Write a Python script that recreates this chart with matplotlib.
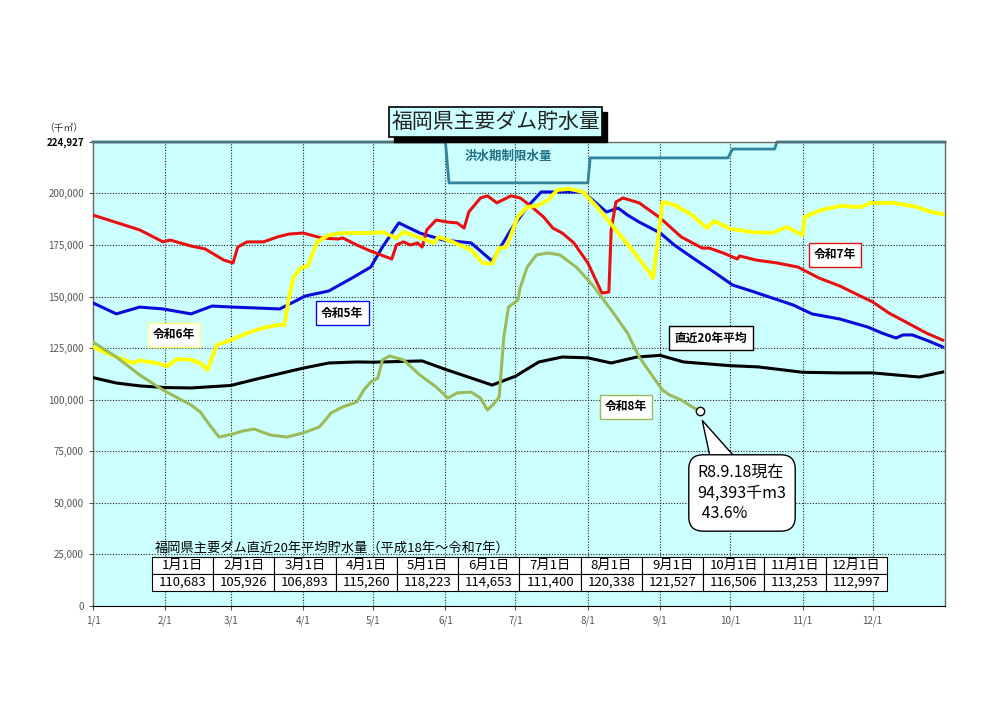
import matplotlib
matplotlib.use("Agg")
import matplotlib.pyplot as plt
from matplotlib.patches import Rectangle, Polygon

plt.rcParams['font.family'] = ['Noto Sans CJK JP', 'DejaVu Sans']

# ==========================================
# Data (x = day of year, Jan 1 = 0 ; y = storage in 1000 m3)
# ==========================================
CAPACITY = 224.927

MONTH_DAYS = [0, 31, 59, 90, 120, 151, 181, 212, 243, 273, 304, 334]
MONTH_TICKS = ['1/1', '2/1', '3/1', '4/1', '5/1', '6/1', '7/1', '8/1', '9/1', '10/1', '11/1', '12/1']

# 令和5年 (blue)
R5_DAYS = [0, 10, 20, 30, 42, 51, 60, 80, 86, 91, 101, 111, 119, 124, 131, 140, 150, 162, 171,
           179, 186, 192, 199, 210, 220, 225, 229, 234, 243, 249, 257, 266, 274, 282, 291, 300,
           308, 320, 332, 338, 344, 347, 351, 357, 364]
R5_VALUES = [146.9, 141.6, 144.9, 144.0, 141.6, 145.4, 144.9, 144.0, 147.4, 150.3, 152.7, 159.0,
             164.3, 174.0, 185.7, 180.8, 177.4, 176.0, 167.2, 182.3, 193.4, 200.7, 200.7, 200.7,
             191.0, 192.9, 189.5, 186.1, 180.8, 175.0, 168.7, 161.9, 155.6, 152.7, 149.3, 145.9,
             141.6, 139.1, 135.2, 132.3, 129.9, 131.4, 131.4, 128.9, 125.6]

# 令和6年 (yellow)
R6_DAYS = [0, 10, 17, 20, 27, 32, 36, 42, 46, 49, 53, 59, 66, 73, 79, 82, 84, 86, 89, 92, 96,
           101, 107, 119, 124, 130, 133, 139, 146, 148, 154, 162, 167, 171, 174, 177, 182, 186,
           190, 195, 199, 204, 210, 216, 223, 230, 236, 240, 242, 244, 249, 256, 263, 266, 273,
           282, 291, 297, 304, 305, 312, 320, 329, 333, 343, 353, 359, 364]
R6_VALUES = [125.6, 120.7, 117.8, 119.0, 117.8, 116.3, 119.7, 119.3, 117.8, 114.4, 126.5, 128.9,
             132.3, 134.8, 136.2, 136.2, 149.8, 159.5, 163.9, 164.8, 176.5, 179.8, 180.8, 180.8,
             181.3, 178.4, 181.3, 178.9, 176.0, 178.9, 176.5, 172.6, 166.3, 165.8, 173.5, 174.0,
             188.6, 193.4, 193.9, 196.8, 201.7, 202.2, 200.7, 193.4, 183.7, 174.0, 165.3, 159.0,
             177.4, 195.8, 194.4, 190.0, 183.2, 186.6, 182.8, 181.3, 180.8, 183.7, 179.8, 188.6,
             192.0, 193.9, 193.4, 195.4, 195.4, 193.4, 191.0, 190.0]

# 令和7年 (red)
R7_DAYS = [0, 20, 30, 33, 42, 48, 56, 60, 62, 66, 73, 79, 84, 90, 98, 105, 107, 113, 119, 128,
           130, 133, 136, 139, 141, 143, 147, 152, 156, 159, 161, 166, 169, 173, 179, 183, 187,
           193, 197, 201, 206, 212, 216, 218, 221, 222, 224, 227, 234, 243, 252, 261, 264, 270,
           276, 277, 284, 293, 302, 311, 320, 327, 334, 341, 349, 357, 364]
R7_VALUES = [189.5, 182.3, 176.5, 177.4, 174.5, 173.1, 167.7, 166.3, 174.0, 176.5, 176.5, 178.9,
             180.3, 180.8, 178.4, 177.9, 178.4, 175.0, 172.0, 168.2, 175.0, 176.5, 175.0, 176.0,
             174.0, 182.3, 187.1, 186.1, 185.7, 183.2, 191.0, 197.8, 198.8, 195.4, 198.8, 197.8,
             194.4, 188.6, 183.2, 180.8, 176.0, 166.3, 156.6, 151.7, 152.2, 182.3, 195.8, 197.8,
             195.4, 188.1, 178.9, 173.5, 173.5, 171.1, 168.2, 169.7, 167.7, 166.3, 164.3, 159.0,
             155.1, 151.2, 147.4, 142.0, 137.2, 132.3, 128.9]

# 令和8年 (green, up to 9/18)
R8_DAYS = [0, 10, 20, 30, 42, 46, 50, 54, 60, 64, 69, 76, 83, 90, 97, 102, 107, 113, 116, 119,
           122, 124, 127, 133, 140, 147, 152, 156, 162, 166, 169, 172, 174, 176, 178, 182, 183,
           186, 190, 195, 200, 207, 214, 222, 229, 234, 240, 244, 247, 252, 256, 260]
R8_VALUES = [128.0, 120.7, 112.0, 104.7, 97.4, 94.0, 87.7, 81.9, 83.4, 84.8, 85.8, 82.9, 81.9,
             83.9, 86.8, 93.6, 96.5, 98.9, 104.7, 108.6, 110.5, 119.3, 121.2, 119.3, 112.0,
             106.2, 100.8, 103.3, 103.7, 100.8, 95.0, 98.4, 101.3, 130.4, 144.9, 148.3, 154.2,
             164.3, 170.2, 171.1, 170.2, 164.3, 155.6, 143.5, 132.3, 120.7, 111.0, 104.7, 102.3,
             99.9, 97.0, 94.393]

# 直近20年平均 (black)
AVG_DAYS = [0, 10, 20, 31, 42, 59, 70, 90, 101, 113, 120, 141, 151, 171, 181, 191, 201, 212,
            222, 233, 243, 253, 273, 285, 304, 320, 334, 354, 364]
AVG_VALUES = [110.7, 108.1, 106.7, 105.9, 105.7, 106.9, 110.0, 115.3, 117.8, 118.3, 118.2, 118.8,
              114.7, 107.1, 111.4, 118.3, 120.7, 120.3, 117.8, 120.7, 121.5, 118.3, 116.5, 115.9,
              113.3, 113.0, 113.0, 111.0, 113.4]

# 洪水期制限水量
FLOOD_DAYS = [0, 151, 152.5, 212, 213, 272, 274, 292, 293, 365]
FLOOD_VALUES = [CAPACITY, CAPACITY, 205.1, 205.1, 217.2, 217.2, 221.5, 221.5, CAPACITY, CAPACITY]

# table
TABLE_HEADERS = ['1月1日', '2月1日', '3月1日', '4月1日', '5月1日', '6月1日',
                 '7月1日', '8月1日', '9月1日', '10月1日', '11月1日', '12月1日']
TABLE_VALUES = [110683, 105926, 106893, 115260, 118223, 114653,
                111400, 120338, 121527, 116506, 113253, 112997]

LATEST_DATE = 'R8.9.18現在'
LATEST_VALUE = 94393
LATEST_RATE = 43.6


def main():
    fig = plt.figure(figsize=(10, 7.06), dpi=100)
    ax = fig.add_axes([0.093, 0.1416, 0.852, 0.6573])
    ax.set_facecolor('#CCFFFF')

    # grid
    yticks = [0, 25, 50, 75, 100, 125, 150, 175, 200]
    for y in yticks[1:]:
        ax.axhline(y, color='#222222', lw=0.8, ls=(0, (1, 1.5)), zorder=1)
    for d in MONTH_DAYS[1:]:
        ax.axvline(d, color='#222222', lw=0.8, ls=(0, (1, 1.5)), zorder=1)

    # flood control limit
    ax.plot(FLOOD_DAYS, FLOOD_VALUES, color='#31849B', lw=2, zorder=2, clip_on=False)
    ax.text(178, 217.8, '洪水期制限水量', color='#1F6F86', fontsize=9, fontweight='bold',
            ha='center', va='center', zorder=3)

    # series
    ax.plot(AVG_DAYS, AVG_VALUES, color='black', lw=2.2, zorder=4)
    ax.plot(R5_DAYS, R5_VALUES, color='#0A0ADC', lw=2.2, zorder=5)
    ax.plot(R7_DAYS, R7_VALUES, color='#E81010', lw=2.2, zorder=6)
    ax.plot(R6_DAYS, R6_VALUES, color='#FFFF00', lw=2.8, zorder=7)
    ax.plot(R8_DAYS, R8_VALUES, color='#9BBB59', lw=2.2, zorder=8)
    ax.plot(R8_DAYS[-1], R8_VALUES[-1], 'o', ms=6, mfc='white', mec='black', mew=1, zorder=9)

    # series labels
    def label(x, y, s, ec):
        ax.text(x, y, s, fontsize=8.5, fontweight='bold', ha='center', va='center', zorder=10,
                bbox=dict(boxstyle='square,pad=0.45', fc='white', ec=ec, lw=1))

    label(34.7, 131.4, '令和6年', '#FFFF80')
    label(106.7, 142.0, '令和5年', '#0A0ADC')
    label(317.9, 170.2, '令和7年', '#E81010')
    label(264.8, 129.9, '直近20年平均', 'black')
    label(228.3, 96.5, '令和8年', '#9BBB59')

    # callout for latest value: pointer wedge then the rounded box
    ax.add_patch(Polygon([(261.0, 90.0), (264.5, 71.5), (275.5, 71.5)], closed=True,
                         fc='white', ec='black', lw=1, zorder=11))
    ax.text(259.0, 54.8, f'{LATEST_DATE}\n{LATEST_VALUE:,}千m3\n {LATEST_RATE}%',
            fontsize=11.5, ha='left', va='center', linespacing=1.3, zorder=12,
            bbox=dict(boxstyle='round,pad=0.55,rounding_size=0.9', fc='white', ec='black', lw=1))

    # table of 20-year average
    ax.text(0.0728, 0.125, '福岡県主要ダム直近20年平均貯水量（平成18年～令和7年）',
            transform=ax.transAxes, fontsize=9.5, ha='left', va='center', zorder=12)
    cell_text = [TABLE_HEADERS, [f'{v:,}' for v in TABLE_VALUES]]
    tbl = ax.table(cellText=cell_text, cellLoc='center',
                   bbox=[0.0692, 0.0323, 0.8627, 0.0733], zorder=12)
    tbl.auto_set_font_size(False)
    tbl.set_fontsize(9.5)
    for cell in tbl.get_celld().values():
        cell.set_facecolor('white')
        cell.set_edgecolor('black')
        cell.set_linewidth(0.8)

    # axes
    ax.set_xlim(0, 365)
    ax.set_ylim(0, CAPACITY)
    ax.set_xticks(MONTH_DAYS)
    ax.set_xticklabels(MONTH_TICKS)
    ax.set_yticks(yticks + [CAPACITY])
    ylabels = [f'{int(round(v * 1000)):,}' for v in yticks + [CAPACITY]]
    ax.set_yticklabels(ylabels)
    ax.tick_params(axis='both', labelsize=7, labelcolor='#555555', color='#555555',
                   length=3, direction='out')
    ax.get_yticklabels()[-1].set_color('black')
    ax.get_yticklabels()[-1].set_fontweight('bold')
    for side in ['left', 'right', 'top']:
        ax.spines[side].set_color('#666666')
        ax.spines[side].set_linewidth(1)
    ax.spines['bottom'].set_color('black')

    fig.text(0.064, 0.819, '（千㎥）', fontsize=7, ha='center', va='center', color='#333333')

    # title box with shadow
    fig.patches.append(Rectangle((0.394, 1 - 142 / 706), 0.213, 30 / 706, transform=fig.transFigure,
                                 fc='black', ec='black', zorder=1))
    fig.patches.append(Rectangle((0.389, 1 - 137 / 706), 0.213, 30 / 706, transform=fig.transFigure,
                                 fc='#CCFFFF', ec='black', lw=1.2, zorder=2))
    fig.text(0.4955, 1 - 122 / 706, '福岡県主要ダム貯水量', fontsize=15, ha='center', va='center',
             color='#222222', zorder=3)

    fig.savefig('out.png', dpi=100)
    plt.close(fig)


if __name__ == "__main__":
    main()
